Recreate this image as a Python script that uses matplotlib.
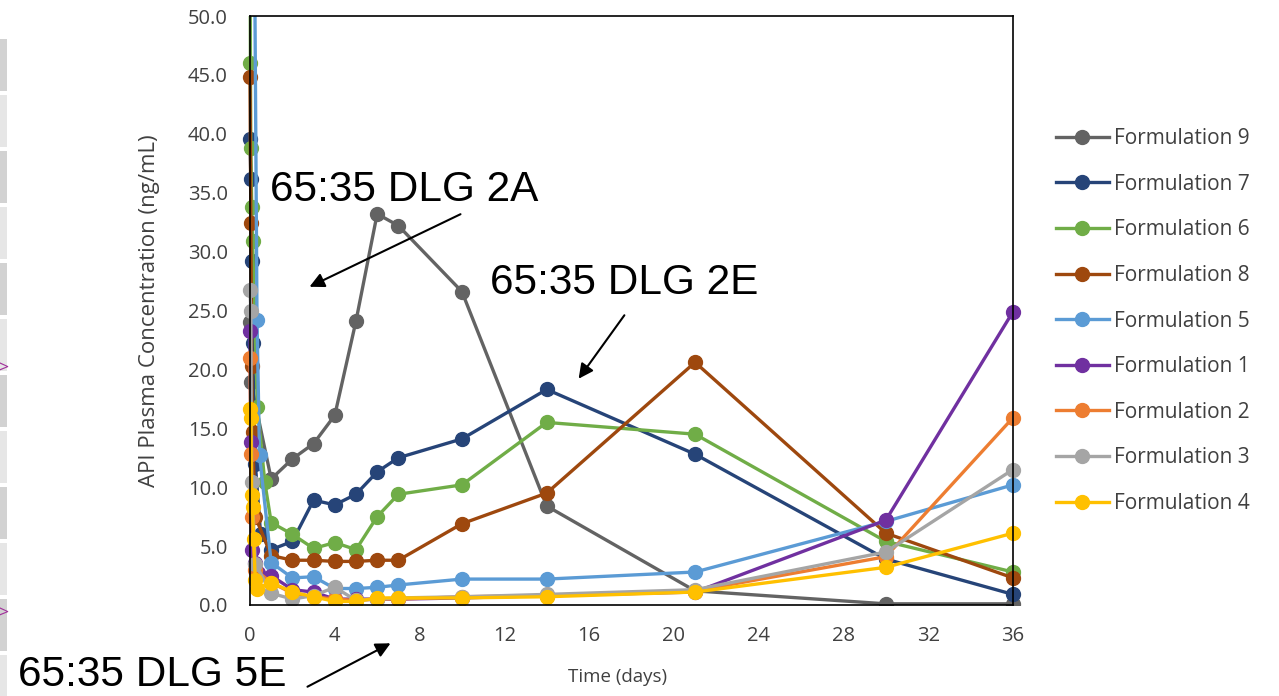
import matplotlib
matplotlib.use('agg')
import matplotlib.pyplot as plt
from matplotlib.patches import Rectangle

plt.rcParams['font.family'] = ['Open Sans', 'DejaVu Sans']

# --- data (days, ng/mL) ---
names = ['Formulation 9', 'Formulation 7', 'Formulation 6', 'Formulation 8', 'Formulation 5',
         'Formulation 1', 'Formulation 2', 'Formulation 3', 'Formulation 4']
colors = ['#636363', '#264478', '#70AD47', '#9E480E', '#5B9BD5',
          '#7030A0', '#ED7D31', '#A5A5A5', '#FFC000']

t_f9 = [0, 0.04, 1, 2, 3, 4, 5, 6, 7, 10, 14, 21, 30, 36]
c_f9 = [24.0, 18.9, 10.7, 12.4, 13.7, 16.1, 24.1, 33.2, 32.2, 26.6, 8.4, 1.2, 0.1, 0.1]

t_f7 = [0, 0.04, 0.08, 0.12, 0.25, 0.5, 1, 2, 3, 4, 5, 6, 7, 10, 14, 21, 30, 36]
c_f7 = [39.6, 36.2, 29.2, 22.2, 12.0, 6.0, 4.7, 5.4, 8.9, 8.5, 9.4, 11.3, 12.5, 14.1, 18.3, 12.8, 3.9, 0.9]

t_f6 = [0, 0.02, 0.04, 0.08, 0.12, 0.35, 0.7, 1, 2, 3, 4, 5, 6, 7, 10, 14, 21, 30, 36]
c_f6 = [60.0, 46.0, 38.8, 33.8, 30.9, 16.8, 10.4, 7.0, 6.0, 4.8, 5.3, 4.7, 7.5, 9.4, 10.2, 15.5, 14.5, 5.4, 2.8]

t_f8 = [0, 0.04, 0.08, 0.12, 0.25, 1, 2, 3, 4, 5, 6, 7, 10, 14, 21, 30, 36]
c_f8 = [44.8, 32.4, 20.3, 14.7, 7.5, 4.2, 3.8, 3.8, 3.7, 3.7, 3.8, 3.8, 6.9, 9.5, 20.6, 6.1, 2.3]

t_f5 = [0.2, 0.33, 0.45, 1, 2, 3, 4, 5, 6, 7, 10, 14, 21, 30, 36]
c_f5 = [60.0, 24.2, 12.7, 3.6, 2.3, 2.4, 1.4, 1.4, 1.5, 1.7, 2.2, 2.2, 2.8, 7.1, 10.2]

t_f1 = [0, 0.04, 0.08, 0.25, 0.4, 1, 2, 3, 4, 5, 6, 7, 10, 14, 21, 30, 36]
c_f1 = [23.3, 13.8, 4.7, 3.6, 2.7, 2.5, 1.3, 1.1, 0.5, 0.5, 0.5, 0.5, 0.6, 0.8, 1.1, 7.2, 24.9]

t_f2 = [0, 0.04, 0.08, 0.25, 1, 2, 3, 4, 5, 6, 7, 10, 14, 21, 30, 36]
c_f2 = [21.0, 12.8, 7.5, 3.0, 1.9, 1.0, 0.7, 0.5, 0.4, 0.5, 0.5, 0.7, 0.8, 1.2, 4.1, 15.9]

t_f3 = [0, 0.04, 0.08, 0.25, 1, 2, 3, 4, 5, 6, 7, 10, 14, 21, 30, 36]
c_f3 = [26.7, 25.0, 10.4, 3.5, 1.0, 0.5, 0.8, 1.5, 0.4, 0.5, 0.6, 0.7, 0.9, 1.3, 4.5, 11.5]

t_f4 = [0, 0.04, 0.08, 0.12, 0.17, 0.25, 0.33, 1, 2, 3, 4, 5, 6, 7, 10, 14, 21, 30, 36]
c_f4 = [16.6, 15.9, 9.3, 8.3, 5.6, 2.1, 1.4, 1.9, 1.1, 0.7, 0.3, 0.3, 0.6, 0.6, 0.6, 0.7, 1.1, 3.2, 6.1]

times = [t_f9, t_f7, t_f6, t_f8, t_f5, t_f1, t_f2, t_f3, t_f4]
concs = [c_f9, c_f7, c_f6, c_f8, c_f5, c_f1, c_f2, c_f3, c_f4]

xticks = list(range(0, 37, 4))
yticks = [i * 5.0 for i in range(11)]

fig = plt.figure(figsize=(12.79, 6.96), dpi=100)
ax = fig.add_axes([250 / 1279, 1 - 605 / 696, 763 / 1279, 589 / 696])

# clip box a bit wider than the axes so markers at day 0 / 36 are not cut
clip = Rectangle((-0.02, 0), 1.04, 1, transform=ax.transAxes, visible=False)
ax.add_patch(clip)

for t, c, name, col in zip(times, concs, names, colors):
    ln, = ax.plot(t, c, color=col, lw=2.4, marker='o', ms=10, label=name)
    ln.set_clip_path(clip)

ax.set_xlim(0, 36)
ax.set_ylim(0, 50)
ax.set_xticks(xticks)
ax.set_yticks(yticks)
ax.set_yticklabels(['%.1f' % v for v in yticks])
ax.tick_params(length=0, labelsize=14.5, colors='#404040')
ax.tick_params(axis='y', pad=16)
ax.tick_params(axis='x', pad=15)
for s in ax.spines.values():
    s.set_color('black')
    s.set_linewidth(1.2)

ax.set_xlabel('Time (days)', fontsize=13.5, color='#404040')
ax.set_ylabel('API Plasma Concentration (ng/mL)', fontsize=16, color='#404040')
ax.xaxis.set_label_coords((618 - 250) / 763, -(668 - 605) / 589)
ax.yaxis.set_label_coords(-(250 - 160) / 763, 0.5)

ax.legend(loc='center left', bbox_to_anchor=(1046 / 1279, 1 - 321 / 696),
          bbox_transform=fig.transFigure, frameon=False, fontsize=15,
          handlelength=2.5, handletextpad=0.25, labelspacing=1.18, borderpad=0,
          labelcolor='#404040')

# annotations
big = dict(fontsize=30.5, family=['Liberation Sans', 'DejaVu Sans'], color='black', va='center')
fig.text(270 / 1279, 1 - 190 / 696, '65:35 DLG 2A', **big)
fig.text(490 / 1279, 1 - 283 / 696, '65:35 DLG 2E', **big)
fig.text(18 / 1279, 1 - 675 / 696, '65:35 DLG 5E', **big)

arrows = [((463, 696 - 213), (307, 696 - 288)),
          ((626, 696 - 313), (577, 696 - 381)),
          ((305, 696 - 688), (393, 696 - 642))]
for tail, head in arrows:
    ax.annotate('', xy=head, xytext=tail, xycoords='figure pixels', textcoords='figure pixels',
                arrowprops=dict(arrowstyle='-|>', color='black', lw=1.5, mutation_scale=22),
                annotation_clip=False)

# slide edge strips on the left
y = 35
k = 0
while y < 696:
    h = 56
    fig.patches.append(Rectangle((0, 1 - (y + h) / 696), 7 / 1279, (h - 4) / 696,
                                 transform=fig.transFigure, color=['#d2d2d2', '#e6e6e6'][k % 2], lw=0))
    y += h
    k += 1
fig.text(-2 / 1279, 1 - 367 / 696, '>', color='#a0309a', fontsize=14, va='center')
fig.text(-2 / 1279, 1 - 612 / 696, '>', color='#a0309a', fontsize=14, va='center')

fig.savefig('out.png', dpi=100)
